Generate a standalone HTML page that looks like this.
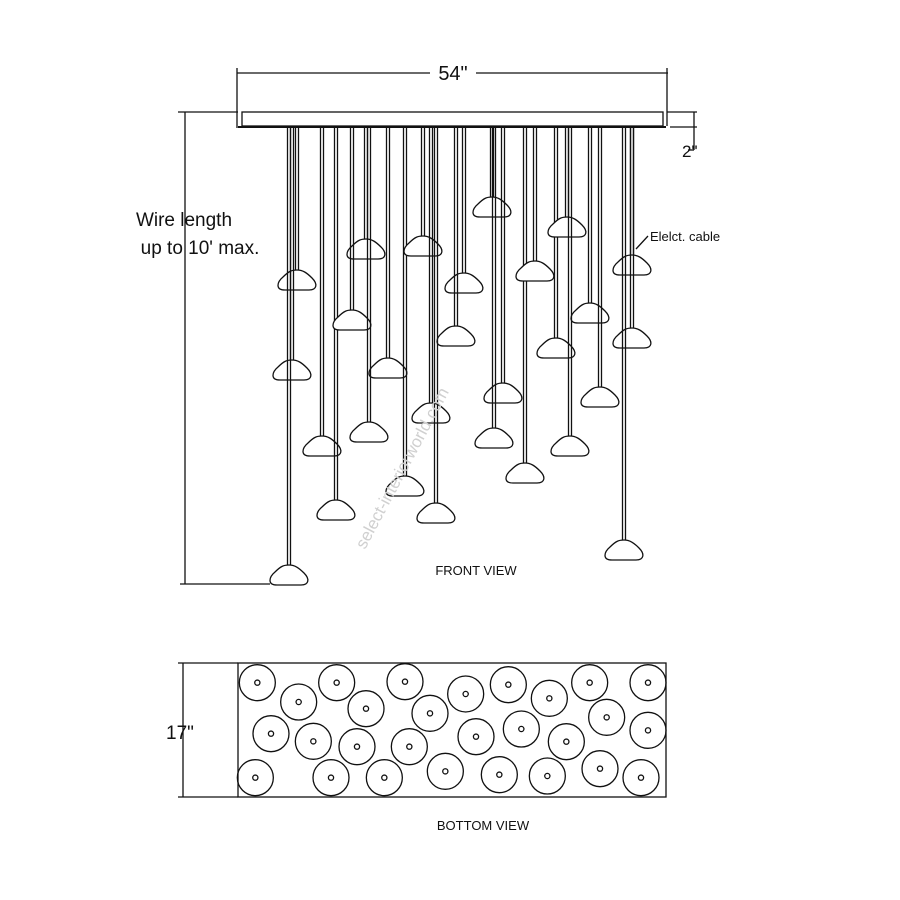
<!DOCTYPE html>
<html><head><meta charset="utf-8"><style>
html,body{margin:0;padding:0;background:#fff;}
svg{display:block;}
text{font-family:"Liberation Sans",sans-serif;fill:#111;}
</style></head><body>
<svg id="s" width="900" height="900" viewBox="0 0 900 900" xmlns="http://www.w3.org/2000/svg">
<g stroke="#111" fill="none" stroke-width="1.3">
<line x1="237" y1="73" x2="430" y2="73"/><line x1="476" y1="73" x2="668" y2="73"/>
<line x1="237" y1="68" x2="237" y2="128"/><line x1="667" y1="68" x2="667" y2="126"/>
<rect x="242" y="112" width="421" height="14"/>
<line x1="238" y1="127" x2="666" y2="127" stroke-width="2"/>
<line x1="178" y1="112" x2="238" y2="112"/>
<line x1="667" y1="112" x2="697" y2="112"/>
<line x1="670" y1="127" x2="697" y2="127"/>
<line x1="694" y1="112" x2="694" y2="150"/><line x1="688" y1="150" x2="694" y2="150"/>
<line x1="185" y1="112" x2="185" y2="584"/>
<line x1="180" y1="584" x2="270" y2="584"/>
<line x1="648" y1="236" x2="636" y2="249"/>
<rect x="238" y="663" width="428" height="134"/>
<line x1="183" y1="663" x2="183" y2="797"/>
<line x1="178" y1="663" x2="238" y2="663"/><line x1="178" y1="797" x2="238" y2="797"/>
<g id="g"></g>
</g>
<text x="453" y="80" font-size="20" text-anchor="middle">54"</text>
<text x="682" y="157" font-size="17">2"</text>
<text x="184" y="226" font-size="19" text-anchor="middle">Wire length</text>
<text x="200" y="254" font-size="19" text-anchor="middle">up to 10' max.</text>
<text x="650" y="241" font-size="13">Elelct. cable</text>
<text x="476" y="575" font-size="13" text-anchor="middle">FRONT VIEW</text>
<text x="483" y="830" font-size="13" text-anchor="middle">BOTTOM VIEW</text>
<text x="166" y="739" font-size="19">17"</text>
<text x="0" y="0" font-size="17" style="fill:#d0d0d0" transform="translate(365,550) rotate(-62)">select-interiorworld.com</text>
</svg>
<script>
var g=document.getElementById('g'),h='';
var st=[[297,280],[292,370],[322,446],[336,510],[289,575],[366,249],[352,320],[388,368],[369,432],[405,486],[423,246],[464,283],[456,336],[431,413],[436,513],[492,207],[503,393],[494,438],[525,473],[535,271],[556,348],[567,227],[590,313],[570,446],[600,397],[632,265],[632,338],[624,550]];
st.forEach(function(p){var x=p[0],y=p[1];
h+='<line x1="'+(x-1.5)+'" y1="127" x2="'+(x-1.5)+'" y2="'+(y-9)+'"/><line x1="'+(x+1.5)+'" y1="127" x2="'+(x+1.5)+'" y2="'+(y-9)+'"/>';
h+='<path d="M'+(x-12)+','+(y+10)+' C'+(x-22)+','+(y+10)+' '+(x-20)+','+(y+2)+' '+(x-14)+','+(y-3)+' C'+(x-8)+','+(y-9)+' '+(x-5)+','+(y-10)+' '+x+','+(y-10)+' C'+(x+6)+','+(y-10)+' '+(x+10)+','+(y-7)+' '+(x+15)+','+(y-2)+' C'+(x+21)+','+(y+4)+' '+(x+20)+','+(y+10)+' '+(x+12)+','+(y+10)+' Z" fill="#fff"/>';});
var c=[[82,98],[320,98],[525,95],[835,104],[1079,98],[1254,98],[206,156],[408,176],[600,190],[707,132],[958,145],[1130,202],[123,251],[250,274],[381,290],[538,290],[738,260],[874,237],[1009,275],[1254,241],[76,383],[303,383],[463,383],[646,364],[808,374],[952,378],[1110,356],[1233,383]];
c.forEach(function(p){var x=p[0]/3+230,y=p[1]/3+650;
h+='<circle cx="'+x+'" cy="'+y+'" r="18"/><circle cx="'+x+'" cy="'+y+'" r="2.6"/>';});
g.innerHTML=h;
</script>
</body></html>
